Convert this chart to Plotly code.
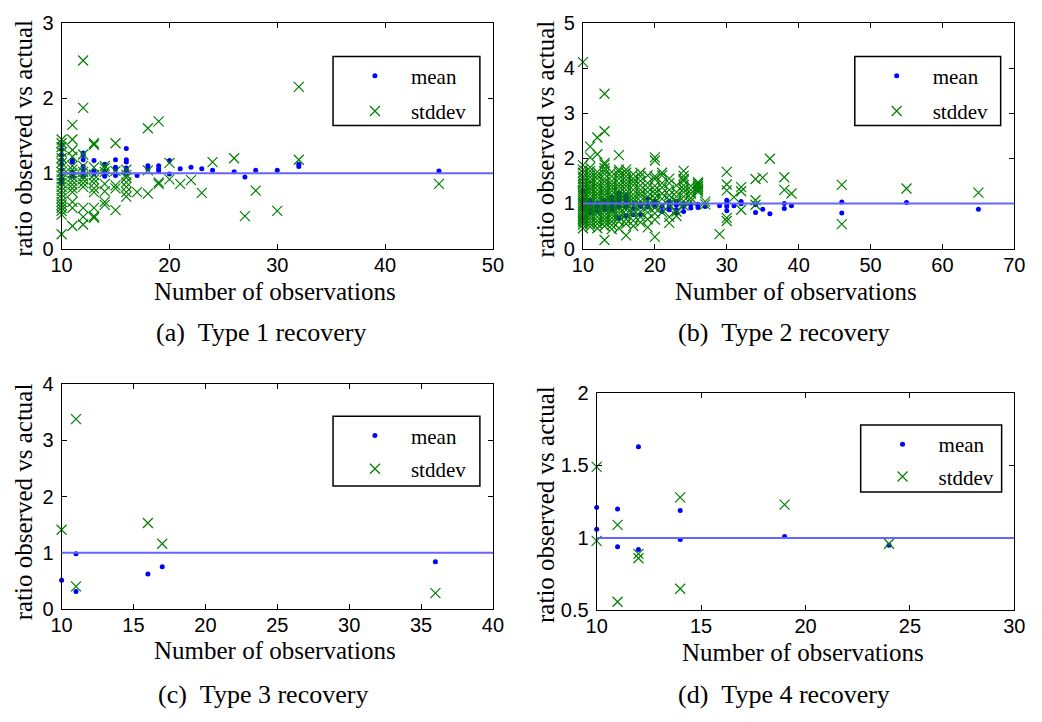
import plotly.graph_objects as go

W, H = 1042, 722
SERIF = "Liberation Serif"
SANS = "Liberation Sans"
BLUE = "#0000ff"
GREEN = "#008000"
REF_LINE = "#6464ff"

# ratio of observed to actual, keyed by number of observations
a_mean = {
    10: [1.38, 1.32, 1.25, 1.18, 1.12, 1.05, 0.99, 0.92, 0.88],
    11: [1.18, 1.15, 1.02, 0.99, 0.96],
    12: [1.27, 1.24, 1.18, 1.09, 1.03, 0.97],
    13: [1.17, 1.03, 0.99],
    14: [1.12, 1.03, 0.99, 0.96],
    15: [1.18, 1.08, 1.05, 0.97],
    16: [1.33, 1.18, 1.15, 1.07, 1.04, 0.99],
    17: [0.97], 18: [1.10, 1.06], 19: [1.10, 1.06, 1.03], 20: [1.17, 0.99],
    21: [1.06], 22: [1.08], 23: [1.06], 24: [1.04], 26: [1.02], 27: [0.95],
    28: [1.04], 30: [1.04], 32: [1.12, 1.09], 45: [1.03],
}
a_std = {
    10: [1.45, 1.40, 1.35, 1.28, 1.20, 1.14, 1.08, 1.02, 0.97, 0.92, 0.87,
         0.82, 0.77, 0.72, 0.67, 0.62, 0.58, 0.54, 0.50, 0.45, 0.19],
    11: [1.645, 1.45, 1.31, 1.22, 1.10, 1.05, 1.00, 0.95, 0.90, 0.85, 0.80,
         0.75, 0.62, 0.54, 0.30],
    12: [2.50, 1.87, 1.25, 1.10, 1.02, 0.96, 0.92, 0.87, 0.82, 0.54, 0.42, 0.32],
    13: [1.40, 1.38, 1.08, 0.98, 0.92, 0.87, 0.80, 0.75, 0.54, 0.43, 0.41],
    14: [1.10, 1.07, 1.02, 0.86, 0.76, 0.62, 0.58],
    15: [1.40, 1.03, 0.84, 0.80, 0.51],
    16: [1.05, 0.98, 0.945, 0.88, 0.82, 0.75, 0.69],
    17: [0.75], 18: [1.60, 1.04, 0.73], 19: [1.69, 0.88, 0.86], 20: [1.14, 0.92],
    21: [0.86], 22: [0.91], 23: [0.74], 24: [1.15], 26: [1.20], 27: [0.43],
    28: [0.77], 30: [0.50], 32: [2.15, 1.18], 45: [0.86],
}

b_mean = {
    10: [1.28, 1.10, 1.02, 0.97, 0.93, 0.88],
    11: [1.07, 0.98, 0.86, 0.79],
    12: [1.00, 0.93, 0.82],
    13: [1.07, 1.00, 0.93, 0.86],
    14: [1.14, 1.07, 1.00, 0.93, 0.86],
    15: [1.22, 1.14, 1.07, 1.00, 0.93, 0.68],
    16: [1.18, 1.14, 1.07, 1.00, 0.93, 0.73],
    17: [1.00, 0.88, 0.75], 18: [1.00, 0.93, 0.75], 19: [1.11, 1.00, 0.92],
    20: [1.04, 0.98, 0.93], 21: [0.93, 0.82], 22: [1.05, 0.95, 0.86],
    23: [1.04, 0.96, 0.86, 0.79], 24: [1.00, 0.93, 0.82], 25: [0.98, 0.90],
    26: [0.98, 0.91], 27: [0.93], 29: [0.95], 30: [1.07, 1.00, 0.93, 0.84],
    31: [0.95], 32: [1.04, 0.99], 34: [0.97, 0.80], 35: [0.87], 36: [0.77],
    38: [1.00, 0.89], 39: [0.95], 46: [1.03, 0.79], 55: [1.02], 65: [0.87],
}
b_std = {
    10: [4.13, 1.85, 1.75, 1.68, 1.60, 1.55, 1.48, 1.42, 1.36, 1.30, 1.25, 1.20,
         1.15, 1.10, 1.05, 1.00, 0.95, 0.90, 0.85, 0.80, 0.75, 0.70, 0.66, 0.62,
         0.58, 0.53, 0.45],
    11: [2.26, 2.02, 1.80, 1.72, 1.65, 1.58, 1.50, 1.45, 1.38, 1.32, 1.26, 1.20,
         1.12, 1.05, 0.98, 0.92, 0.86, 0.80, 0.74, 0.68, 0.62, 0.55, 0.48],
    12: [2.46, 2.09, 1.70, 1.62, 1.55, 1.45, 1.38, 1.30, 1.22, 1.15, 1.08, 1.00,
         0.92, 0.85, 0.78, 0.70, 0.62, 0.55, 0.45],
    13: [3.43, 2.60, 1.90, 1.86, 1.78, 1.72, 1.65, 1.55, 1.48, 1.40, 1.32, 1.25,
         1.18, 1.10, 1.02, 0.95, 0.88, 0.80, 0.72, 0.65, 0.58, 0.50, 0.19],
    14: [1.70, 1.60, 1.50, 1.42, 1.35, 1.28, 1.20, 1.12, 1.05, 0.98, 0.90, 0.82,
         0.75, 0.68, 0.60, 0.52, 0.43],
    15: [2.07, 1.75, 1.70, 1.62, 1.55, 1.45, 1.38, 1.30, 1.22, 1.15, 1.08, 1.00,
         0.92, 0.85, 0.78, 0.70, 0.60, 0.45],
    16: [1.75, 1.68, 1.60, 1.52, 1.45, 1.38, 1.30, 1.22, 1.15, 1.08, 1.00, 0.92,
         0.85, 0.75, 0.65, 0.55, 0.29],
    17: [1.65, 1.55, 1.48, 1.40, 1.30, 1.20, 1.12, 1.05, 0.95, 0.85, 0.75, 0.62, 0.50],
    18: [1.68, 1.60, 1.50, 1.40, 1.30, 1.22, 1.15, 1.05, 0.95, 0.82, 0.70, 0.58],
    19: [1.62, 1.45, 1.35, 1.25, 1.15, 1.05, 0.92, 0.80, 0.65, 0.47],
    20: [2.02, 1.95, 1.60, 1.54, 1.39, 1.30, 1.22, 1.12, 1.02, 0.90, 0.78, 0.64, 0.26],
    21: [1.68, 1.62, 1.45, 1.35, 1.22, 1.10, 0.95, 0.80],
    22: [1.55, 1.45, 1.30, 1.18, 1.08, 0.95, 0.70, 0.57],
    23: [1.40, 1.25, 1.15, 1.05, 0.82, 0.72],
    24: [1.72, 1.61, 1.54, 1.50, 1.40, 1.32, 1.25, 1.15, 1.05, 0.95],
    25: [1.39, 1.30, 1.22, 1.12, 1.05],
    26: [1.47, 1.43, 1.39, 1.36, 1.32, 1.29, 1.25],
    27: [1.04, 0.98], 29: [0.32], 30: [1.70, 1.42, 1.29, 0.68, 0.61], 31: [1.14],
    32: [1.36, 1.27, 0.86], 34: [1.54, 1.07, 0.97], 35: [1.57], 36: [1.99],
    38: [1.58, 1.30], 39: [1.22], 46: [1.41, 0.54], 55: [1.33], 65: [1.24],
}

c_x = [10, 11, 11, 16, 17, 36]
c_mean = [0.51, 0.98, 0.31, 0.62, 0.75, 0.84]
c_std = [1.41, 3.38, 0.40, 1.53, 1.16, 0.28]

d_x = [10, 10, 11, 11, 12, 12, 14, 14, 19, 24]
d_mean = [1.21, 1.06, 1.20, 0.94, 1.63, 0.92, 1.19, 0.99, 1.01, 0.95]
d_std = [1.49, 0.98, 1.09, 0.56, 0.89, 0.86, 1.28, 0.65, 1.23, 0.96]

captions = ["(a)\u00a0\u00a0Type 1 recovery", "(b)\u00a0\u00a0Type 2 recovery",
            "(c)\u00a0\u00a0Type 3 recovery", "(d)\u00a0\u00a0Type 4 recovery"]


def flat(groups):
    xs, ys = [], []
    for n, vals in groups.items():
        xs += [n] * len(vals)
        ys += vals
    return xs, ys


def px(x):
    return x / W


def py(y):
    return 1 - y / H


a_mx, a_my = flat(a_mean)
a_sx, a_sy = flat(a_std)
b_mx, b_my = flat(b_mean)
b_sx, b_sy = flat(b_std)

panels = [
    dict(mx=a_mx, my=a_my, sx=a_sx, sy=a_sy, xr=[10, 50], xd=10, yr=[0, 3], yd=1,
         box=(51.7, 12.3, 492.3, 245.0), leg=(329, 47, 479, 118),
         ytitle=(12, 131), xtitle=(270, 289), cap=(255, 332), gap=5),
    dict(mx=b_mx, my=b_my, sx=b_sx, sy=b_sy, xr=[10, 70], xd=10, yr=[0, 5], yd=1,
         box=(584.3, 12.3, 1025.0, 245.0), leg=(862, 47, 1011, 118),
         ytitle=(547, 132), xtitle=(802, 289), cap=(790, 332), gap=5),
    dict(mx=c_x, my=c_mean, sx=c_x, sy=c_std, xr=[10, 40], xd=5, yr=[0, 4], yd=1,
         box=(51.7, 385.0, 492.3, 616.7), leg=(329, 418, 479, 490),
         ytitle=(13, 506), xtitle=(270, 660), cap=(257, 705), gap=3),
    dict(mx=d_x, my=d_mean, sx=d_x, sy=d_std, xr=[10, 30], xd=5, yr=[0.5, 2], yd=0.5,
         box=(598.3, 394.0, 1025.0, 618.3), leg=(868, 427, 1012, 496),
         ytitle=(546, 509), xtitle=(809, 662), cap=(790, 705), gap=2),
]

fig = go.Figure()
shapes, annotations = [], []
layout = {}

for i, p in enumerate(panels, start=1):
    sfx = "" if i == 1 else str(i)
    xa, ya = "x" + sfx, "y" + sfx
    legend_id = "legend" + sfx

    fig.add_trace(go.Scatter(
        x=p["mx"], y=p["my"], xaxis=xa, yaxis=ya, mode="markers", name="mean",
        legend=legend_id, legendgroup=f"m{i}", cliponaxis=False,
        marker=dict(symbol="circle", size=5, color=BLUE, line=dict(width=0))))
    fig.add_trace(go.Scatter(
        x=p["sx"], y=p["sy"], xaxis=xa, yaxis=ya, mode="markers", name="stddev",
        legend=legend_id, legendgroup=f"s{i}", cliponaxis=False,
        marker=dict(symbol="x-thin", size=10, color=GREEN,
                    line=dict(width=1.2, color=GREEN))))

    x0, y0, x1, y1 = p["box"]
    common = dict(showline=True, linecolor="black", linewidth=1, mirror="ticks",
                  ticks="inside", ticklen=5, tickwidth=1, tickcolor="black",
                  showgrid=False, zeroline=False,
                  tickfont=dict(family=SANS, size=20, color="black"))
    layout["xaxis" + sfx] = dict(common, domain=[px(x0), px(x1)], range=p["xr"],
                                 tick0=p["xr"][0], dtick=p["xd"], anchor=ya,
                                 ticklabelstandoff=-2)
    layout["yaxis" + sfx] = dict(common, domain=[py(y1), py(y0)], range=p["yr"],
                                 tick0=p["yr"][0], dtick=p["yd"], anchor=xa,
                                 ticklabelstandoff=3)

    # reference line at ratio 1
    shapes.append(dict(type="line", xref=xa + " domain", yref=ya, x0=0, x1=1,
                       y0=1, y1=1, layer="above",
                       line=dict(color=REF_LINE, width=2)))

    # legend frame
    lx0, ly0, lx1, ly1 = p["leg"]
    shapes.append(dict(type="rect", xref="paper", yref="paper",
                       x0=px(lx0), x1=px(lx1), y0=py(ly1), y1=py(ly0),
                       line=dict(color="black", width=1.5), fillcolor="white",
                       layer="below"))
    layout[legend_id] = dict(x=px(lx0 + 6), y=py(ly0 - 1), xanchor="left",
                             yanchor="top", bgcolor="rgba(0,0,0,0)", borderwidth=0,
                             itemwidth=62, traceorder="grouped",
                             tracegroupgap=p["gap"],
                             font=dict(family=SERIF, size=21, color="black"))

    tx, ty = p["ytitle"]
    annotations.append(dict(text="ratio observed vs actual", xref="paper", yref="paper",
                            x=px(tx), y=py(ty), textangle=-90, showarrow=False,
                            xanchor="center", yanchor="middle",
                            font=dict(family=SERIF, size=25, color="black")))
    tx, ty = p["xtitle"]
    annotations.append(dict(text="Number of observations", xref="paper", yref="paper",
                            x=px(tx), y=py(ty), showarrow=False,
                            xanchor="center", yanchor="middle",
                            font=dict(family=SERIF, size=25, color="black")))
    tx, ty = p["cap"]
    annotations.append(dict(text=captions[i - 1], xref="paper", yref="paper",
                            x=px(tx), y=py(ty), showarrow=False,
                            xanchor="center", yanchor="middle",
                            font=dict(family=SERIF, size=26, color="black")))

fig.update_layout(
    width=W, height=H, margin=dict(l=0, r=0, t=0, b=0),
    paper_bgcolor="white", plot_bgcolor="white", showlegend=True,
    font=dict(family=SERIF, size=20, color="black"),
    shapes=shapes, annotations=annotations, **layout)

fig.write_html("out.html")
